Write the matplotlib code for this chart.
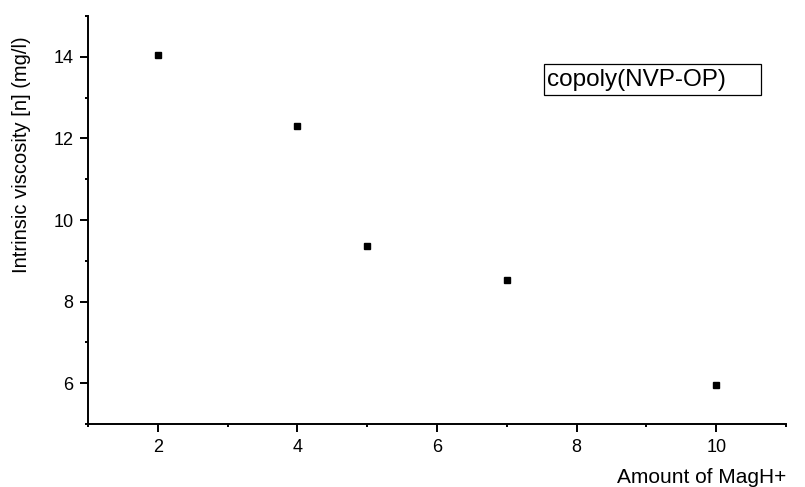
import matplotlib.pyplot as plt
from matplotlib.patches import Rectangle
from matplotlib.ticker import MultipleLocator

plt.rcParams['font.family'] = ['Liberation Sans', 'DejaVu Sans']

# amount of MagH+ vs intrinsic viscosity
magh = [2, 4, 5, 7, 10]
visc = [14.05, 12.3, 9.37, 8.53, 5.95]

series_name = "copoly(NVP-OP)"
x_title = "Amount of MagH+"
y_title = "Intrinsic viscosity [n] (mg/l)"


def main():
    fig = plt.figure(figsize=(8.05, 4.87), dpi=100)
    ax = fig.add_axes([0.1093, 0.1294, 0.8671, 0.8377])

    ax.plot(magh, visc, 's', color='black', markersize=4.3, linestyle='none')

    ax.set_xlim(1, 11)
    ax.set_ylim(5, 15)
    ax.xaxis.set_minor_locator(MultipleLocator(1))
    ax.yaxis.set_minor_locator(MultipleLocator(1))
    ax.set_xticks([2, 4, 6, 8, 10])
    ax.set_yticks([6, 8, 10, 12, 14])

    for s in ['top', 'right']:
        ax.spines[s].set_visible(False)
    for s in ['left', 'bottom']:
        ax.spines[s].set_linewidth(1.4)

    ax.tick_params(which='major', direction='out', length=5.5, width=1.4,
                   labelsize=13, pad=5)
    ax.tick_params(which='minor', direction='out', length=2.5, width=1.4)

    ax.set_xlabel(x_title, fontsize=15, ha='right', va='baseline')
    ax.xaxis.set_label_coords(1.0, -0.145)
    ax.set_ylabel(y_title, fontsize=14.5, va='center')
    ax.yaxis.set_label_coords(-0.095, 0.66)

    # legend-style label box
    ax.add_patch(Rectangle((0.653, 0.806), 0.311, 0.076, transform=ax.transAxes,
                           facecolor='white', edgecolor='black', linewidth=0.9,
                           clip_on=False))
    ax.text(0.657, 0.843, series_name, transform=ax.transAxes, fontsize=17.5,
            ha='left', va='center')

    fig.savefig("out.png", dpi=100)


if __name__ == "__main__":
    main()
